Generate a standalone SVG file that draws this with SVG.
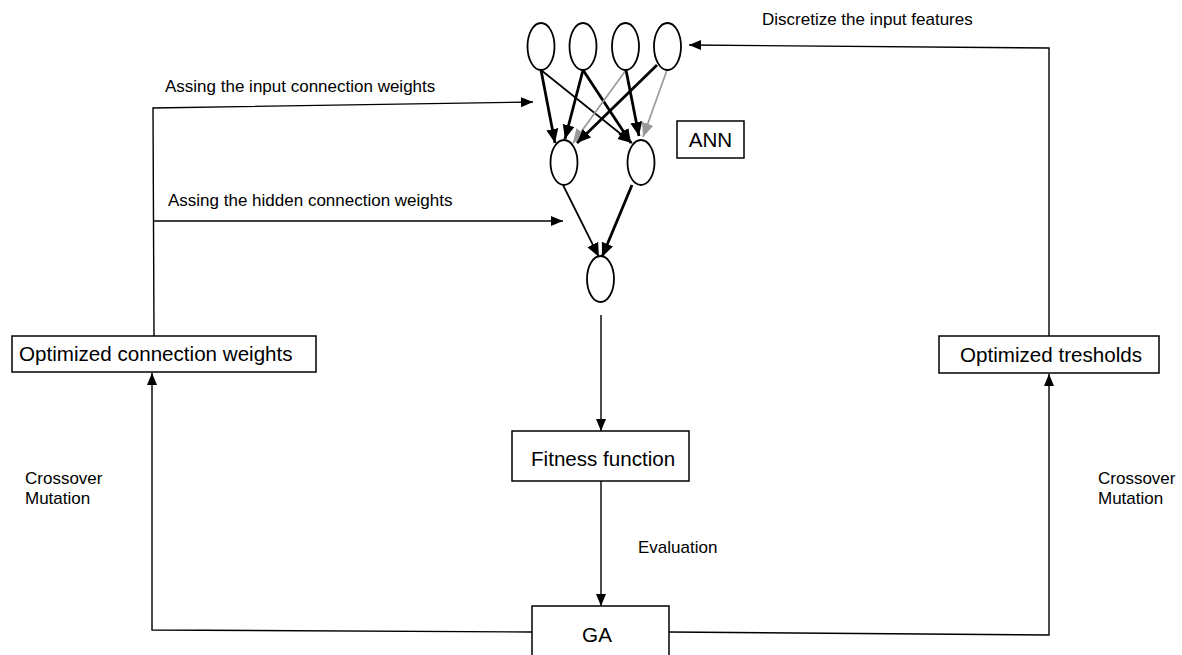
<svg xmlns="http://www.w3.org/2000/svg" width="1182" height="655" viewBox="0 0 1182 655">
<style>
.bg{fill:#fff}
.node{fill:#fff;stroke:#000;stroke-width:1.8}
.box{fill:#fff;stroke:#000;stroke-width:1.5}
.ln{fill:none;stroke:#000;stroke-width:1.4}
.thk{fill:none;stroke:#000;stroke-width:2.8}
.thn{fill:none;stroke:#000;stroke-width:1.7}
.gry{fill:none;stroke:#999;stroke-width:1.7}
.big{font-family:"Liberation Sans",Arial,sans-serif;font-size:20.6px;fill:#000}
.sm{font-family:"Liberation Sans",Arial,sans-serif;font-size:17px;fill:#000}
</style>
<defs>
<marker id="ah" markerUnits="userSpaceOnUse" markerWidth="13" markerHeight="11" refX="12" refY="5.5" orient="auto"><path d="M0,0.5 L12,5.5 L0,10.5 z" fill="#000"/></marker>
<marker id="ahk" markerUnits="userSpaceOnUse" markerWidth="15" markerHeight="13" refX="14" refY="6.5" orient="auto"><path d="M0,0.5 L14,6.5 L0,12.5 z" fill="#000"/></marker>
<marker id="ahg" markerUnits="userSpaceOnUse" markerWidth="15" markerHeight="13" refX="14" refY="6.5" orient="auto"><path d="M0,0.5 L14,6.5 L0,12.5 z" fill="#999"/></marker>
</defs>
<rect class="bg" x="0" y="0" width="1182" height="655"/>
<g id="connectors">
<path class="thk" d="M541,70 L555,143" marker-end="url(#ahk)"/>
<path class="thn" d="M541,70 L632,143" marker-end="url(#ahk)"/>
<path class="thk" d="M583,70 L565,139" marker-end="url(#ahk)"/>
<path class="thk" d="M583,70 L631,143" marker-end="url(#ahk)"/>
<path class="gry" d="M626,70 L573,143" marker-end="url(#ahg)"/>
<path class="thk" d="M626,70 L639,136" marker-end="url(#ahk)"/>
<path class="thk" d="M657,65 L577,143" marker-end="url(#ahk)"/>
<path class="gry" d="M667,70 L643,137" marker-end="url(#ahg)"/>
<path class="thn" d="M563,185 L599,257" marker-end="url(#ahk)"/>
<path class="thk" d="M632,185 L602,257" marker-end="url(#ahk)"/>
<path class="ln" d="M601,315 L601,431" marker-end="url(#ah)"/>
<path class="ln" d="M601,481 L601,606" marker-end="url(#ah)"/>
<path class="ln" d="M154,336 L153,108 L533,102" marker-end="url(#ah)"/>
<path class="ln" d="M153,221 L563,221" marker-end="url(#ah)"/>
<path class="ln" d="M1049,336 L1049,48 L689,45" marker-end="url(#ah)"/>
<path class="ln" d="M532,632 L152,630 L152,373" marker-end="url(#ah)"/>
<path class="ln" d="M669,632 L1049,635 L1049,374" marker-end="url(#ah)"/>
</g>
<g id="in1"><ellipse class="node" cx="541" cy="46.5" rx="13.5" ry="23.5"/></g>
<g id="in2"><ellipse class="node" cx="583" cy="46.5" rx="13.5" ry="23.5"/></g>
<g id="in3"><ellipse class="node" cx="625.5" cy="46.5" rx="13.5" ry="23.5"/></g>
<g id="in4"><ellipse class="node" cx="667.5" cy="46.5" rx="13.5" ry="23.5"/></g>
<g id="hid1"><ellipse class="node" cx="564" cy="162.5" rx="13.5" ry="22.5"/></g>
<g id="hid2"><ellipse class="node" cx="641" cy="162.5" rx="13.5" ry="22.5"/></g>
<g id="out"><ellipse class="node" cx="600.5" cy="279" rx="13.5" ry="23"/></g>
<g id="ann"><rect class="box" x="677" y="121" width="67" height="37"/><text class="big" x="710.5" y="147" text-anchor="middle">ANN</text></g>
<g id="ocw"><rect class="box" x="12" y="336" width="304" height="36"/><text class="big" x="19" y="361">Optimized connection weights</text></g>
<g id="ot"><rect class="box" x="939" y="336" width="220" height="37"/><text class="big" x="960" y="362">Optimized tresholds</text></g>
<g id="fit"><rect class="box" x="512" y="431" width="177" height="50"/><text class="big" x="531" y="466">Fitness function</text></g>
<g id="ga"><rect class="box" x="532" y="606" width="137" height="60"/><text class="big" x="597" y="642" text-anchor="middle">GA</text></g>
<g id="labels">
<text class="sm" x="165" y="92">Assing the input connection weights</text>
<text class="sm" x="168" y="206">Assing the hidden connection weights</text>
<text class="sm" x="762" y="25">Discretize the input features</text>
<text class="sm" x="638" y="553">Evaluation</text>
<text class="sm" x="25" y="484">Crossover</text>
<text class="sm" x="25" y="504">Mutation</text>
<text class="sm" x="1098" y="484">Crossover</text>
<text class="sm" x="1098" y="504">Mutation</text>
</g>
</svg>
